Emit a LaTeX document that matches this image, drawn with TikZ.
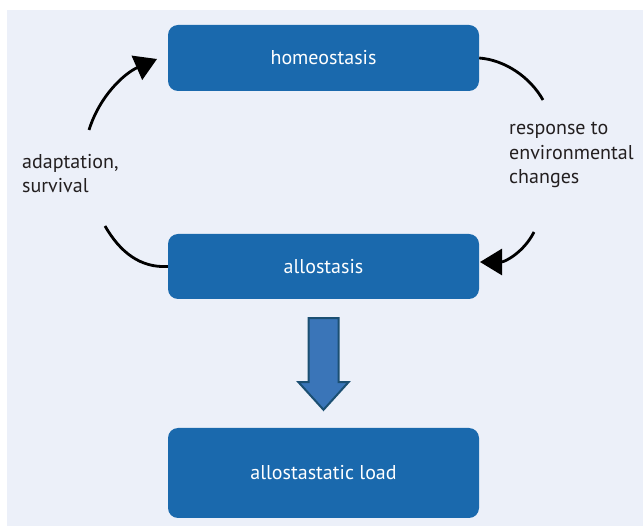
\documentclass[tikz,border=0pt]{standalone}
\usepackage{fontspec}
\setmainfont{PT Sans}
\usetikzlibrary{arrows.meta,calc}
\definecolor{panel}{HTML}{ECF0F9}
\definecolor{boxblue}{HTML}{1A69AD}
\definecolor{arrowfill}{HTML}{3A75B8}
\definecolor{arrowline}{HTML}{1B4F72}
\definecolor{txt}{HTML}{231F20}
\tikzset{
  bluebox/.style={draw=none, fill=boxblue, rounded corners=10pt, minimum width=311pt,
    text=white, font=\fontsize{20}{24}\selectfont, inner sep=0pt},
  label/.style={text=txt, align=left, font=\fontsize{20}{24.5}\selectfont, inner sep=0pt},
  cyc/.style={line width=2.8pt, draw=black},
  bighead/.style={-{Triangle[length=22pt,width=26pt]}}
}
\begin{document}
\begin{tikzpicture}[x=1pt,y=-1pt]
\useasboundingbox (0,0) rectangle (643,526);
\fill[white] (0,0) rectangle (643,526);
\fill[panel] (7,10) rectangle (643,526);
\node[bluebox, minimum height=66pt] (homeo) at (323.5,58) {homeostasis};
\node[bluebox, minimum height=65pt] (allo) at (323.5,266.5) {allostasis};
\node[bluebox, minimum height=90pt] (load) at (323.5,473) {allostastatic load};
\node[label, anchor=base west] (resp) at (509,184) {response to\\environmental\\changes};
\node[label, anchor=base west] (adapt) at (22,193) {adaptation,\\survival};
\coordinate (tl) at (89,130);
\coordinate (tlend) at (157,59);
\coordinate (trend) at (543,100);
\coordinate (br) at (534,232);
\coordinate (brend) at (480,262);
\coordinate (bl) at (105,226);
\draw[cyc, bighead] (tl) .. controls (100,95) and (125,73) .. (tlend);
\draw[cyc] (homeo.east) .. controls (505,60) and (530,77) .. (trend);
\draw[cyc, bighead] (br) .. controls (524,252) and (505,262) .. (brend);
\draw[cyc] (bl) .. controls (120,252) and (140,268) .. (allo.west);
\draw[fill=arrowfill, draw=arrowline, line width=2pt, line join=miter]
  ($(allo.south)+(-15,19)$) -- ($(allo.south)+(15,19)$) -- ($(allo.south)+(15,83)$)
  -- ($(allo.south)+(25,83)$) -- ($(load.north)+(0,-18)$) -- ($(allo.south)+(-25,83)$)
  -- ($(allo.south)+(-15,83)$) -- cycle;
\end{tikzpicture}
\end{document}
